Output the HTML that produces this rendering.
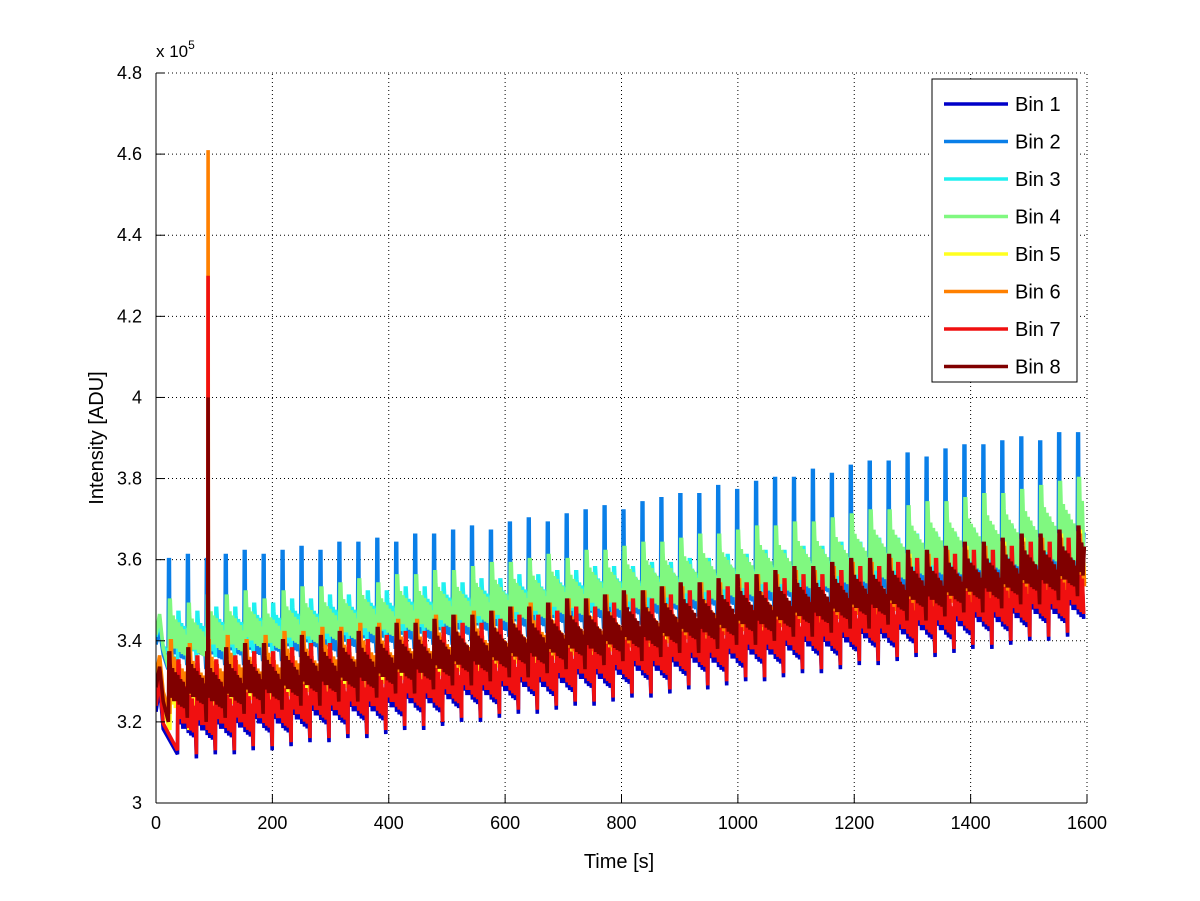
<!DOCTYPE html>
<html><head><meta charset="utf-8"><style>
html,body{margin:0;background:#fff;overflow:hidden;width:1200px;height:901px;}
svg{display:block;font-family:"Liberation Sans",Arial,sans-serif;overflow:hidden;}
</style></head><body>
<svg id="chart" width="1200" height="901">
<rect width="1200" height="901" fill="#fff"/>
<clipPath id="plotclip"><rect x="156" y="60" width="935" height="743"/></clipPath>
<g id="grid"></g>
<g id="series" clip-path="url(#plotclip)"></g>
<g id="axes"></g>
<text x="156" y="57" font-size="17">x 10<tspan dy="-8" font-size="12">5</tspan></text>
<text x="619" y="868" font-size="20" text-anchor="middle">Time [s]</text>
<text x="0" y="0" font-size="20" text-anchor="middle" transform="translate(103,438) rotate(-90)">Intensity [ADU]</text>
<g id="legend"></g>
</svg>
<script>
const binNames=["Bin 1","Bin 2","Bin 3","Bin 4","Bin 5","Bin 6","Bin 7","Bin 8"];
const binColors=["#0000c8","#0a7fe8","#20f0f0","#80f880","#ffff20","#ff8000","#f01010","#800000"];
const xTicks=[0,200,400,600,800,1000,1200,1400,1600];
const yTicks=[3,3.2,3.4,3.6,3.8,4,4.2,4.4,4.6,4.8];
const yTickLabels=["3","3.2","3.4","3.6","3.8","4","4.2","4.4","4.6","4.8"];
// per-cycle peak / trough values in kADU
const peak1=[333,334,333,334,335,335,336,337,337,338,338,339,340,340,341,342,342,343,344,344,345,346,346,347,348,348,349,350,350,351,352,352,353,354,354,355,356,356,357,358,358,359,360,360,361,362,362,363,364];
const trough1=[312,311,312,312,313,313,314,315,315,316,316,317,318,318,319,320,320,321,322,322,323,324,324,325,326,326,327,328,328,329,330,330,331,332,332,333,334,334,335,336,336,337,338,338,339,340,340,341,342];
const peak2=[360,361,360,361,362,361,362,363,362,364,364,365,364,366,366,367,368,367,369,370,369,371,372,373,372,374,375,376,376,378,377,379,380,380,382,381,383,384,384,386,385,387,388,388,389,390,389,391,391];
const trough2=[333,334,333,334,334,335,335,336,335,336,337,337,338,338,339,339,340,340,341,341,342,342,343,343,344,344,345,345,346,346,347,347,348,348,349,349,350,350,350,351,351,352,352,353,353,354,354,355,355];
const peak3=[347,347,348,348,349,349,350,350,351,351,352,352,353,353,354,354,355,355,356,356,357,357,358,358,358,359,359,360,360,361,361,362,362,363,363,364,364,365,365,366,366,366,367,367,368,368,369,369,369];
const trough3=[335,335,336,336,337,337,338,338,339,339,340,340,341,341,342,342,343,343,344,344,345,345,346,346,346,347,347,348,348,349,349,350,350,351,351,352,352,353,353,354,354,354,355,355,356,356,357,357,357];
const peak4=[350,349,351,351,352,350,352,353,353,354,355,354,356,356,357,357,358,359,359,360,361,360,362,362,363,364,364,365,366,366,367,368,368,369,369,370,371,372,372,373,374,374,375,376,376,377,378,379,380];
const trough4=[333,333,334,334,335,335,336,336,337,337,338,338,339,339,340,340,341,341,342,342,343,343,344,344,344,345,345,346,346,347,347,348,348,349,349,350,350,351,351,352,352,352,353,353,354,354,355,355,355];
const peak5=[336,337,336,337,338,338,339,340,340,341,341,342,343,343,344,345,345,346,347,347,348,349,349,350,351,351,352,353,353,354,355,355,356,357,357,358,359,359,360,361,361,362,363,363,364,365,365,366,367];
const trough5=[318,318,319,319,320,320,321,322,322,323,323,324,325,325,326,327,327,328,329,329,330,331,331,332,333,333,334,335,335,336,337,337,338,339,339,340,341,341,342,343,343,344,345,345,346,347,347,348,349];
const peak6=[340,339,340,341,340,341,342,342,343,343,344,344,345,345,346,346,347,347,348,349,349,350,350,351,351,352,353,353,354,354,355,356,356,357,357,358,359,359,360,360,361,362,362,363,363,364,365,365,366];
const trough6=[322,321,322,323,322,323,324,324,325,325,326,326,327,327,328,328,329,329,330,331,331,332,332,333,333,334,335,335,336,336,337,338,338,339,339,340,341,341,342,342,343,344,344,345,345,346,347,347,348];
const peak7=[335,336,335,336,337,337,338,339,339,340,340,341,342,342,343,344,344,345,346,346,347,348,348,349,350,350,351,352,352,353,354,354,355,356,356,357,358,358,359,360,360,361,362,362,363,364,364,365,366];
const trough7=[313,312,313,313,314,314,315,316,316,317,317,318,319,319,320,321,321,322,323,323,324,325,325,326,327,327,328,329,329,330,331,331,332,333,333,334,335,335,336,337,337,338,339,339,340,341,341,342,343];
const peak8=[337,338,337,338,339,339,340,341,341,342,342,343,344,344,345,346,346,347,348,348,349,350,350,351,352,352,353,354,354,355,356,356,357,358,358,359,360,360,361,362,362,363,364,364,365,366,366,367,368];
const trough8=[320,321,320,321,322,322,323,324,324,325,325,326,327,327,328,329,329,330,331,331,332,333,333,334,335,335,336,337,337,338,339,339,340,341,341,342,343,343,344,345,345,346,347,347,348,349,349,350,351];
const peaks=[peak1,peak2,peak3,peak4,peak5,peak6,peak7,peak8];
const troughs=[trough1,trough2,trough3,trough4,trough5,trough6,trough7,trough8];
const spikeTime=89;
const spikeValues=[null,null,null,null,null,461,430,400];
const firstCycle=20.6, period=32.55, endTime=1596;
const phase=[0.5,0,0.5,0.05,0.1,0.1,0.5,0.02];
const bandScale=[1,0.45,1,1,1,1,1,1];

const X0=156,X1=1087,Y0=803,Y1=73;
const xs=t=>X0+(t/1600)*(X1-X0);
const ys=v=>Y0-((v-3)/1.8)*(Y0-Y1);
const NS="http://www.w3.org/2000/svg";
function mk(tag,attrs,parent){const e=document.createElementNS(NS,tag);for(const k in attrs)e.setAttribute(k,attrs[k]);parent.appendChild(e);return e;}
const grid=document.getElementById('grid'),axes=document.getElementById('axes'),series=document.getElementById('series'),legend=document.getElementById('legend');

xTicks.forEach((t,i)=>{
  const x=xs(t);
  if(i>0){const g=mk('line',{x1:x,y1:Y0,x2:x,y2:Y1,stroke:'#000','stroke-width':1,'stroke-dasharray':'1,3'},grid);
  
  }
  const tk=mk('line',{x1:x,y1:Y0,x2:x,y2:Y0-9,stroke:'#000'},axes);
  
  
  const lb=mk('text',{x:x,y:Y0+26,'font-size':18,'text-anchor':'middle'},axes);
  lb.textContent=t;
  
  
});
yTicks.forEach((v,i)=>{
  const y=ys(v);
  if(i>0){const g=mk('line',{x1:X0,y1:y,x2:X1,y2:y,stroke:'#000','stroke-width':1,'stroke-dasharray':'1,3'},grid);
  
  }
  const tk=mk('line',{x1:X0,y1:y,x2:X0+9,y2:y,stroke:'#000'},axes);
  
  
  const lb=mk('text',{x:X0-14,y:y+6,'font-size':18,'text-anchor':'end'},axes);
  lb.textContent=yTickLabels[i];
  
  
});
const rg=mk('line',{x1:X1,y1:Y0,x2:X1,y2:Y1,stroke:'#000','stroke-dasharray':'1,3'},grid);



// intra-cycle zigzag shape fractions (position in cycle, level in range)
const shapePos=[0.1,0.16,0.22,0.29,0.36,0.43,0.5,0.57,0.64,0.71,0.78,0.85,0.92];
const shapeLvl=[0.8,0.35,0.78,0.3,0.72,0.3,0.68,0.25,0.62,0.22,0.58,0.2,0.5];

for(let b=0;b<8;b++){
  const P=peaks[b],Q=troughs[b],sc=bandScale[b];
  const pts=[];
  const v=k=>{const p=P[k]/100,q=Q[k]/100;return [p,q,p-q];};
  const first=v(0);
  pts.push([0,first[1]+0.5*sc*first[2]]);
  pts.push([firstCycle*0.3,first[1]+0.8*sc*first[2]]);
  pts.push([firstCycle*0.6,first[1]+0.3*sc*first[2]]);
  let spiked=false;
  for(let k=0;k<P.length;k++){
    const t=firstCycle+(k+phase[b])*period;
    const [p,q,r]=v(k);
    const seg=[[t,q],[t+1.0,p],[t+2.4,p],[t+3.0,q+0.85*sc*r]];
    shapePos.forEach((f,j)=>seg.push([t+period*f,q+shapeLvl[j]*sc*r]));
    seg.forEach(s=>{
      if(!spiked && spikeValues[b]!==null && s[0]>spikeTime){
        spiked=true;
        pts.push([spikeTime,q+0.5*r]);
        pts.push([spikeTime+0.5,spikeValues[b]/100]);
        pts.push([spikeTime+1,q+0.4*r]);
      }
      if(s[0]>0 && s[0]<endTime) pts.push(s);
    });
  }
  const d=pts.map((p,i)=>(i?'L':'M')+xs(p[0]).toFixed(1)+','+ys(p[1]).toFixed(1)).join('');
  const path=mk('path',{d:d,fill:'none',stroke:binColors[b],'stroke-width':3.6,'stroke-linejoin':'miter','stroke-miterlimit':3},series);
  
  
}

const xa=mk('line',{x1:X0,y1:Y0,x2:X1,y2:Y0,stroke:'#000'},axes);


const ya=mk('line',{x1:X0,y1:Y0,x2:X0,y2:Y1,stroke:'#000'},axes);



const lbox=mk('rect',{x:932,y:79,width:145,height:303,fill:'#fff',stroke:'#000'},legend);


binNames.forEach((n,i)=>{
  const y=104+i*37.5;
  const g=mk('g',{},legend);
  
  
  mk('line',{x1:944,y1:y,x2:1008,y2:y,stroke:binColors[i],'stroke-width':3.5},g);
  const t=mk('text',{x:1015,y:y+7,'font-size':20},g);
  t.textContent=n;
});
</script>
</body></html>
